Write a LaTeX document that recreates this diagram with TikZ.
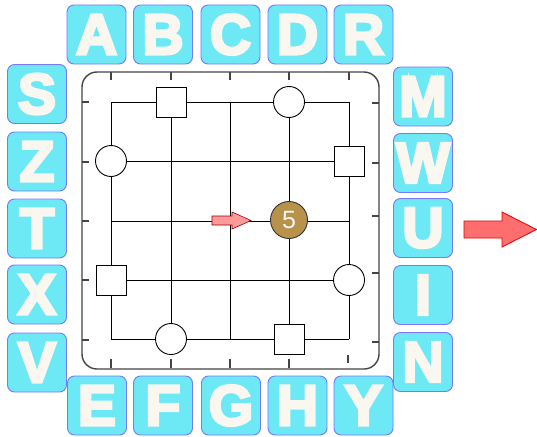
\documentclass[tikz,border=0pt]{standalone}
\usepackage{fontspec}
\setmainfont{Liberation Sans}
\newfontfamily\tilefont{Liberation Sans}[BoldFeatures={FakeBold=5}]
\definecolor{tilefill}{HTML}{6DE9F6}
\definecolor{tileedge}{HTML}{7777FF}
\definecolor{lettercol}{HTML}{FAF7F0}
\definecolor{framecol}{HTML}{444444}
\definecolor{tokenfill}{HTML}{B8924A}
\definecolor{smallarrow}{HTML}{FF9A9A}
\definecolor{bigarrow}{HTML}{FF6E6E}
\begin{document}
\begin{tikzpicture}[x=1pt,y=-1pt,
  tile/.style={draw=tileedge,line width=0.9pt,fill=tilefill,rounded corners=7pt,
    minimum size=59pt,inner sep=0pt,text=lettercol,
    font=\tilefont\bfseries\fontsize{57}{57}\selectfont},
  gridline/.style={black,line width=0.85pt},
  tickline/.style={framecol,line width=1.2pt},
  roundpiece/.style={circle,draw=black,line width=0.9pt,fill=white,minimum size=31pt,inner sep=0pt},
  squarepiece/.style={rectangle,draw=black,line width=0.9pt,fill=white,minimum size=30pt,inner sep=0pt},
  token/.style={circle,draw=black!80,line width=0.9pt,fill=tokenfill,minimum size=37pt,inner sep=0pt,
    text=lettercol,font=\fontsize{25}{25}\selectfont}]
\useasboundingbox (0,0) rectangle (537,436);

% board frame
\draw[framecol,line width=1.4pt,rounded corners=15pt] (82,72) rectangle (379,369);

% grid coordinates
\foreach \i/\x in {1/111,2/171,3/230,4/289,5/349}{
  \foreach \j/\y in {1/102,2/161,3/221,4/280,5/339}{
    \coordinate (g-\i-\j) at (\x,\y);
  }
}
\foreach \k in {1,...,5}{
  \draw[gridline] (g-1-\k) -- (g-5-\k);
  \draw[gridline] (g-\k-1) -- (g-\k-5);
}

% frame ticks
\foreach \x in {111,171,230,289,349}{
  \draw[tickline] (\x,72) -- (\x,80);
}
\foreach \x in {111,171,230,289}{
  \draw[tickline] (\x,359) -- (\x,368);
}
\draw[tickline] (348,355) -- (348,363);
\foreach \y in {102,162,221,280,340}{
  \draw[tickline] (82,\y) -- (89,\y);
}
\foreach \y in {103,163,216,273,342}{
  \draw[tickline] (372,\y) -- (379,\y);
}

% pieces
\node[squarepiece] (sq1) at (g-2-1) {};
\node[roundpiece]  (ci1) at (g-4-1) {};
\node[roundpiece]  (ci2) at (g-1-2) {};
\node[squarepiece] (sq2) at (g-5-2) {};
\node[squarepiece] (sq3) at (g-1-4) {};
\node[roundpiece]  (ci3) at (g-5-4) {};
\node[roundpiece]  (ci4) at (g-2-5) {};
\node[squarepiece] (sq4) at (g-4-5) {};
\node[token] (tok) at (289,220) {5};

% small arrow
\draw[draw=red!60!black,line width=0.6pt,fill=smallarrow]
  (212,216) -- (232,216) -- (232,212) -- (251,220.5) -- (232,229) -- (232,225) -- (212,225) -- cycle;

% big arrow
\draw[draw=red!90!black,line width=0.8pt,fill=bigarrow]
  (464,221) -- (502,221) -- (502,212) -- (536.5,229.5) -- (502,247) -- (502,238) -- (464,238) -- cycle;

% top tiles
\node[tile] (tA) at (96.5,34.5) {A};
\node[tile] (tB) at (163,34.5) {B};
\node[tile] (tC) at (230.5,34.5) {C};
\node[tile] (tD) at (297.5,34.5) {D};
\node[tile] (tR) at (363.5,34.5) {R};
% left tiles
\node[tile] (tS) at (37,94) {S};
\node[tile] (tZ) at (37,161.5) {Z};
\node[tile] (tT) at (37,228.5) {T};
\node[tile] (tX) at (37,294.5) {X};
\node[tile] (tV) at (37,362.5) {V};
% right tiles
\node[tile] (tM) at (423,96.5) {M};
\node[tile] (tW) at (423,163) {W};
\node[tile] (tU) at (423,228) {U};
\node[tile] (tI) at (423,295) {I};
\node[tile] (tN) at (423,362) {N};
% bottom tiles
\node[tile] (tE) at (97,405.5) {E};
\node[tile] (tF) at (163,405.5) {F};
\node[tile] (tG) at (231,405.5) {G};
\node[tile] (tH) at (297.5,405.5) {H};
\node[tile] (tY) at (363.5,405.5) {Y};
\end{tikzpicture}
\end{document}
